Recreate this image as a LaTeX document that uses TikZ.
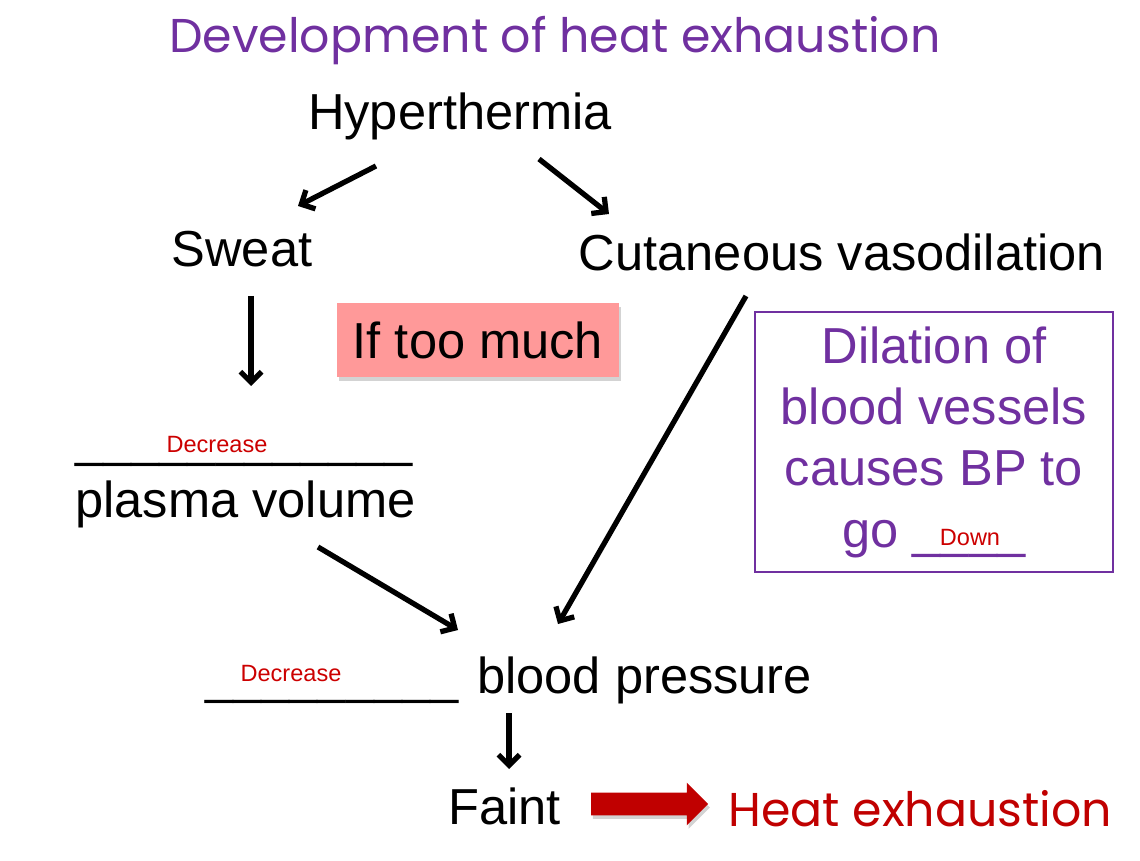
\documentclass[tikz,border=0pt]{standalone}
\usepackage{fontspec}
\setmainfont{Liberation Sans}
\newfontfamily\handfont{Poppins}
\usetikzlibrary{arrows.meta,shapes.arrows,shadows}

\definecolor{titlepurple}{HTML}{7030A0}
\definecolor{darkred}{HTML}{C00000}
\definecolor{blankred}{HTML}{CC0000}
\definecolor{pinkfill}{HTML}{FF9999}

\tikzset{
    word/.style={inner sep=0pt, anchor=base west, font=\fontsize{28.8}{34.9}\selectfont},
    blankword/.style={inner sep=0pt, anchor=base, text=blankred, font=\fontsize{13.4}{16}\selectfont},
    flowarrow/.style={line width=3pt, -{Straight Barb[length=6pt,width=12pt]}},
}

\begin{document}
\begin{tikzpicture}[x=0.02cm, y=-0.02cm]
\useasboundingbox (0,0) rectangle (1140,861);

% titel
\node[inner sep=0pt, anchor=base, text=titlepurple, font=\handfont\fontsize{27}{32}\selectfont] (title) at (555,53) {Development of heat exhaustion};

% knoten
\node[word, anchor=base] (hyper) at (460,130) {Hyperthermia};
\node[word, anchor=base] (sweat) at (242,267) {Sweat};
\node[word, anchor=base] (cutan) at (842,271) {Cutaneous vasodilation};
\node[word] (blankpv) at (75,457) {\_\_\_\_\_\_\_\_\_\_\_\_};
\node[blankword] (decpv) at (217,453) {Decrease};
\node[word] (plasma) at (75,518) {plasma volume};
\node[word] (blankbp) at (205,693) {\_\_\_\_\_\_\_\_\_};
\node[blankword] (decbp) at (291,681) {Decrease};
\node[word] (bp) at (477,693) {blood pressure};
\node[word] (faint) at (448,824) {Faint};
\node[inner sep=0pt, anchor=base west, text=darkred, font=\handfont\fontsize{27}{32}\selectfont] (heat) at (728,826) {Heat exhaustion};

% kaesten
\node[word, anchor=center, fill=pinkfill, minimum width=5.64cm, minimum height=1.48cm,
      drop shadow={shadow xshift=1pt, shadow yshift=-2pt, opacity=.35}] (toomuch) at (478,340) {If too much};
\node[word, anchor=center, align=center, text=titlepurple, draw=titlepurple, line width=0.8pt,
      minimum width=7.16cm, minimum height=5.2cm] (dilbox) at (934,442) {Dilation of\\blood vessels\\causes BP to\\go \_\_\_\_};
\node[blankword] (down) at (970,545) {Down};

% grosser pfeil
\node[single arrow, fill=darkred, inner xsep=0pt, inner ysep=0.22cm, minimum height=2.34cm,
      single arrow head extend=0.2cm, single arrow head indent=0pt,
      drop shadow={shadow xshift=1pt, shadow yshift=-2pt, opacity=.35}] (bigarrow) at (644,804) {};

% pfeilenden
\coordinate (hyper-l) at (376,166);
\coordinate (sweat-in) at (298,206);
\coordinate (hyper-r) at (539,159);
\coordinate (cutan-in) at (609,214);
\coordinate (sweat-out) at (251,296);
\coordinate (plasma-in) at (251,386);
\coordinate (cutan-out) at (746,296);
\coordinate (plasma-out) at (318,547);
\coordinate (bp-in1) at (458,630);
\coordinate (bp-in2) at (558,624);
\coordinate (bp-out) at (509,713);
\coordinate (faint-in) at (509,769);

\draw[flowarrow] (hyper-l) -- (sweat-in);
\draw[flowarrow] (hyper-r) -- (cutan-in);
\draw[flowarrow] (sweat-out) -- (plasma-in);
\draw[flowarrow] (cutan-out) -- (bp-in2);
\draw[flowarrow] (plasma-out) -- (bp-in1);
\draw[flowarrow] (bp-out) -- (faint-in);

\end{tikzpicture}
\end{document}
